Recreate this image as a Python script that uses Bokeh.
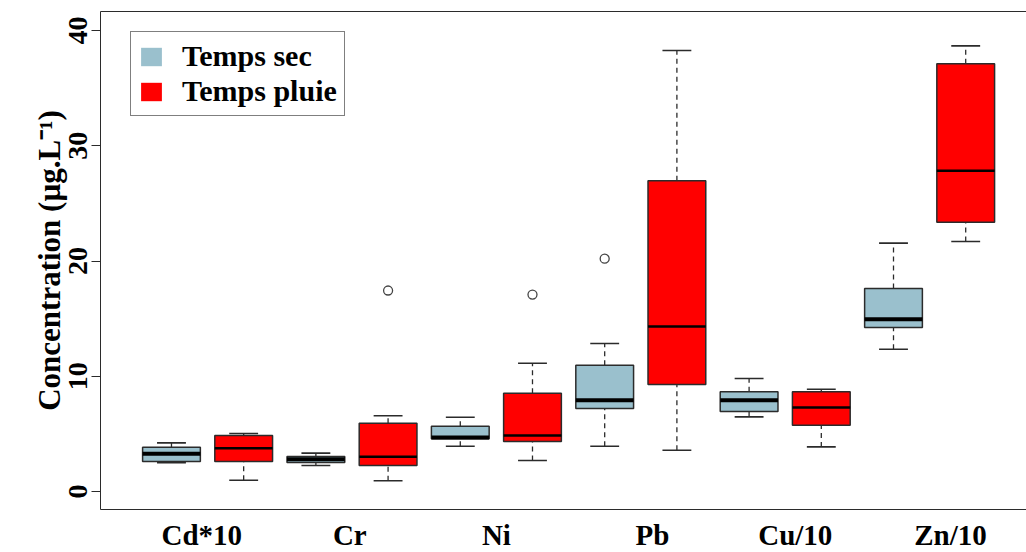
import numpy as np
from bokeh.plotting import figure
from bokeh.models import Range1d, FixedTicker, LinearAxis, Legend, LegendItem
from bokeh.embed import file_html
from bokeh.resources import INLINE

# ---- data ----
elements = ["Cd*10", "Cr", "Ni", "Pb", "Cu/10", "Zn/10"]
label_pos = [1.42, 3.47, 5.5, 7.66, 9.64, 11.79]
y_ticks = [0, 10, 20, 30, 40]

dry_low = [2.49, 2.26, 3.93, 3.93, 6.48, 12.35]
dry_q1 = [2.60, 2.52, 4.57, 7.20, 6.94, 14.23]
dry_med = [3.27, 2.81, 4.69, 7.92, 7.92, 14.95]
dry_q3 = [3.85, 3.04, 5.67, 10.96, 8.65, 17.61]
dry_high = [4.22, 3.33, 6.45, 12.84, 9.80, 21.55]
dry_out_el = ["Pb"]
dry_out = [20.2]

rain_low = [0.98, 0.93, 2.69, 3.58, 3.87, 21.69]
rain_q1 = [2.60, 2.26, 4.34, 9.28, 5.76, 23.37]
rain_med = [3.76, 3.01, 4.86, 14.32, 7.29, 27.83]
rain_q3 = [4.86, 5.93, 8.53, 26.96, 8.65, 37.11]
rain_high = [5.03, 6.57, 11.13, 38.26, 8.88, 38.67]
rain_out_el = ["Cr", "Ni"]
rain_out = [17.44, 17.09]

series_names = ["Temps sec", "Temps pluie"]
DRY = "#9AC0CD"
RAIN = "#FF0000"
EDGE = "#2b2b2b"
FONT = "Liberation Serif"

p = figure(frame_width=926, frame_height=498, output_backend="svg", toolbar_location=None,
           x_range=Range1d(0.017, 12.842), y_range=Range1d(-1.56, 41.65),
           min_border_left=100, min_border_right=0, min_border_top=11, min_border_bottom=10)
p.outline_line_color = None
p.grid.visible = False
p.background_fill_color = "white"

BOX_W = 0.8
CAP_W = 0.4


def draw(offset, low, q1, med, q3, high, out_el, out, color, med_w):
    xs = [2 * i + offset for i in range(len(elements))]
    p.segment(x0=xs, y0=q3, x1=xs, y1=high, line_color=EDGE, line_width=1.3, line_dash="5 4")
    p.segment(x0=xs, y0=low, x1=xs, y1=q1, line_color=EDGE, line_width=1.3, line_dash="5 4")
    p.segment(x0=[x - CAP_W / 2 for x in xs], y0=high, x1=[x + CAP_W / 2 for x in xs], y1=high,
              line_color=EDGE, line_width=1.6)
    p.segment(x0=[x - CAP_W / 2 for x in xs], y0=low, x1=[x + CAP_W / 2 for x in xs], y1=low,
              line_color=EDGE, line_width=1.6)
    p.vbar(x=xs, width=BOX_W, bottom=q1, top=q3, fill_color=color, line_color=EDGE, line_width=1.5)
    p.segment(x0=[x - BOX_W / 2 for x in xs], y0=med, x1=[x + BOX_W / 2 for x in xs], y1=med,
              line_color="black", line_width=med_w)
    ox = [2 * elements.index(e) + offset for e in out_el]
    p.scatter(x=ox, y=out, marker="circle", size=9, fill_color=None, line_color="#444444", line_width=1.3)
    # legend swatch only (no visible mark)
    nan = np.array([np.nan])
    return p.vbar(x=nan, width=BOX_W, bottom=nan, top=nan, fill_color=color, line_color=None)


leg_dry = draw(1, dry_low, dry_q1, dry_med, dry_q3, dry_high, dry_out_el, dry_out, DRY, 4)
leg_rain = draw(2, rain_low, rain_q1, rain_med, rain_q3, rain_high, rain_out_el, rain_out, RAIN, 2.5)

# y axis
ya = p.yaxis[0]
ya.ticker = FixedTicker(ticks=y_ticks)
ya.minor_tick_line_color = None
ya.major_tick_in = 0
ya.major_tick_out = 9
ya.major_tick_line_color = EDGE
ya.axis_line_color = EDGE
ya.major_label_orientation = "vertical"
ya.major_label_standoff = 4
ya.major_label_text_font = FONT
ya.major_label_text_font_style = "bold"
ya.major_label_text_font_size = "28px"
ya.major_label_text_color = "black"
ya.axis_label = "Concentration (µg.L⁻¹)"
ya.axis_label_text_font = FONT
ya.axis_label_text_font_style = "bold"
ya.axis_label_text_font_size = "31px"
ya.axis_label_text_color = "black"
ya.axis_label_standoff = 0

# x axis
xa = p.xaxis[0]
xa.ticker = FixedTicker(ticks=label_pos)
xa.major_label_overrides = {v: n for v, n in zip(label_pos, elements)}
xa.major_tick_line_color = None
xa.minor_tick_line_color = None
xa.axis_line_color = EDGE
xa.major_label_standoff = 3
xa.major_label_text_font = FONT
xa.major_label_text_font_style = "bold"
xa.major_label_text_font_size = "29px"
xa.major_label_text_color = "black"

# top border
top = LinearAxis(ticker=FixedTicker(ticks=[]), axis_line_color=EDGE,
                 major_tick_line_color=None, minor_tick_line_color=None,
                 major_label_standoff=0, major_label_text_font_size="0px")
p.add_layout(top, "above")

legend = Legend(items=[LegendItem(label=series_names[0], renderers=[leg_dry]),
                       LegendItem(label=series_names[1], renderers=[leg_rain])],
                location=(30, 393), orientation="vertical",
                border_line_color="black", border_line_width=1,
                background_fill_color="white", background_fill_alpha=1,
                padding=7, spacing=1, margin=0,
                glyph_width=26, glyph_height=23, label_standoff=18,
                label_text_font=FONT, label_text_font_style="bold",
                label_text_font_size="30px", label_text_color="black")
p.add_layout(legend, "center")

open("out.html", "w").write(file_html(p, INLINE))
